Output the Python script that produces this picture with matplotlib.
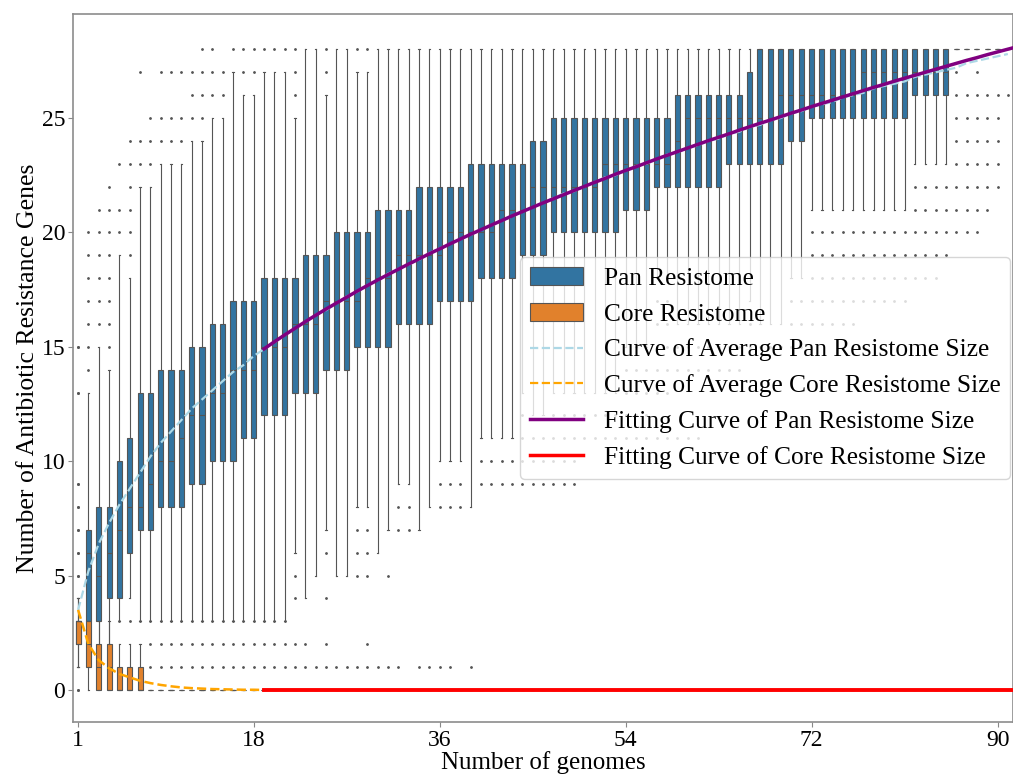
import matplotlib
matplotlib.use('Agg')
import matplotlib.pyplot as plt
from matplotlib.patches import Patch
from matplotlib.lines import Line2D
import numpy as np

# number of genomes sampled (one box per value)
genomes = np.arange(1, 92)

# pan resistome boxes
pan_q1 = [2, 3, 3, 4, 4, 6, 7, 7, 8, 8, 8, 9, 9, 10, 10, 10, 11, 11, 12, 12,
          12, 13, 13, 13, 14, 14, 14, 15, 15, 15, 15, 16, 16, 16, 16, 17, 17, 17, 17, 18,
          18, 18, 18, 19, 19, 19, 20, 20, 20, 20, 20, 20, 20, 21, 21, 21, 22, 22, 22, 22,
          22, 22, 22, 23, 23, 23, 23, 23, 23, 24, 24, 25, 25, 25, 25, 25, 25, 25, 25, 25,
          25, 26, 26, 26, 26, 28, 28, 28, 28, 28, 28]
pan_med = [3, 6, 5, 6, 7, 8, 8, 9, 10, 10, 11, 12, 12, 13, 13, 14, 14, 14, 15, 15,
           15, 16, 16, 16, 17, 17, 17, 17, 18, 18, 18, 19, 19, 19, 19, 19, 20, 20, 20, 20,
           20, 21, 21, 21, 22, 22, 22, 22, 22, 22, 22, 23, 23, 23, 23, 23, 23, 23, 24, 25,
           25, 25, 25, 25, 25, 25, 25, 25, 26, 26, 26, 26, 26, 26, 26, 26, 27, 27, 27, 27,
           27, 27, 27, 27, 27, 28, 28, 28, 28, 28, 28]
pan_q3 = [3, 7, 8, 8, 10, 11, 13, 13, 14, 14, 14, 15, 15, 16, 16, 17, 17, 17, 18, 18,
          18, 18, 19, 19, 19, 20, 20, 20, 20, 21, 21, 21, 21, 22, 22, 22, 22, 22, 23, 23,
          23, 23, 23, 23, 24, 24, 25, 25, 25, 25, 25, 25, 25, 25, 25, 25, 25, 25, 26, 26,
          26, 26, 26, 26, 26, 27, 28, 28, 28, 28, 28, 28, 28, 28, 28, 28, 28, 28, 28, 28,
          28, 28, 28, 28, 28, 28, 28, 28, 28, 28, 28]
pan_lo = [1, 1, 1, 2, 3, 4, 3, 3, 3, 3, 3, 3, 3, 3, 3, 3, 3, 3, 3, 3,
          3, 6, 4, 5, 7, 5, 5, 8, 8, 6, 7, 9, 9, 7, 8, 10, 10, 10, 8, 11,
          11, 11, 11, 13, 12, 12, 13, 13, 13, 13, 13, 13, 13, 15, 15, 15, 18, 18, 16, 16,
          16, 16, 16, 16, 16, 17, 16, 16, 16, 18, 18, 21, 21, 21, 21, 21, 21, 21, 21, 21,
          21, 23, 23, 23, 23, 28, 28, 28, 28, 28, 28]
pan_hi = [4, 13, 15, 14, 19, 18, 22, 22, 23, 23, 23, 24, 24, 25, 25, 27, 26, 26, 27, 27,
          27, 25, 28, 28, 26, 28, 28, 27, 27, 28, 28, 28, 28, 28, 28, 28, 28, 28, 28, 28,
          28, 28, 28, 28, 28, 28, 28, 28, 28, 28, 28, 28, 28, 28, 28, 28, 28, 28, 28, 28,
          28, 28, 28, 28, 28, 28, 28, 28, 28, 28, 28, 28, 28, 28, 28, 28, 28, 28, 28, 28,
          28, 28, 28, 28, 28, 28, 28, 28, 28, 28, 28]
pan_fliers = [
    [0, 5, 6, 7, 8, 9, 13, 15], [14, 15, 16, 17, 18, 19, 20], [16, 17, 18, 19, 20, 21],
    [15, 16, 17, 18, 19, 20, 21, 22], [20, 21, 23], [19, 20, 21, 22, 23, 24],
    [23, 24, 27], [23, 24, 25], [24, 25, 27], [24, 25, 27], [24, 25, 27],
    [25, 26, 27], [25, 26, 27, 28], [26, 27, 28], [26, 27], [28], [27, 28], [27, 28],
    [28], [28], [28], [4, 5, 26, 27, 28], [], [], [4, 6, 27, 28], [], [],
    [5, 6, 7, 28], [5, 6, 7, 28], [], [5], [7, 8], [7, 8], [], [],
    [8, 9], [8, 9], [8, 9], [], [9, 10], [9, 10], [9, 10], [9, 10],
    [9, 10, 11, 12], [9, 10, 11], [9, 10, 11], [9, 10, 11, 12], [9, 10, 11, 12],
    [9, 10, 11, 12], [11, 12], [11, 12], [11, 12], [11, 12],
    [11, 12, 13, 14], [11, 12, 13, 14], [11, 12, 13, 14],
    [11, 13, 14, 15, 16, 17], [11, 13, 14, 15, 16, 17],
    [11, 14, 15], [11, 14, 15], [11, 14, 15], [14, 15], [14, 15], [14, 15], [14, 15],
    [15, 16], [15], [15], [15], [15, 16, 17], [15, 16, 17],
    [16, 17, 18, 19, 20], [16, 17, 18, 19, 20], [16, 17, 18, 19, 20],
    [16, 17, 18, 19, 20], [16, 17, 18, 19, 20],
    [17, 18, 19, 20], [17, 18, 19, 20], [17, 18, 19, 20], [17, 18, 19, 20], [17, 18, 19, 20],
    [18, 19, 20, 21, 22], [18, 19, 20, 21, 22], [18, 19, 20, 21, 22], [19, 20, 21, 22],
    [20, 21, 22, 23, 24, 25, 26, 27], [20, 21, 22, 23, 24, 25, 26],
    [20, 21, 22, 23, 24, 25, 26, 27], [21, 22, 23, 24, 25, 26], [22, 23, 24, 25, 26], [26],
]

# core resistome boxes (all zero from 8 genomes on)
core_q1 = [2, 1, 0, 0, 0, 0, 0] + [0] * 84
core_med = [3, 2, 1, 1, 0, 0, 0] + [0] * 84
core_q3 = [3, 3, 2, 2, 1, 1, 1] + [0] * 84
core_lo = [1, 0, 0, 0, 0, 0, 0] + [0] * 84
core_hi = [4, 3, 3, 3, 2, 2, 2] + [0] * 84
core_fliers = [
    [0, 5, 6, 7, 8, 9, 13, 15], [], [], [], [3], [3], [3],
    [1, 2, 3], [1, 2, 3], [1, 2, 3], [1, 2, 3], [1, 2, 3], [1, 2, 3], [1, 2, 3],
    [1, 2, 3], [1, 2, 3], [1, 2, 3], [1, 2, 3], [1, 2, 3], [1, 2, 3], [1, 2, 3],
    [1, 2], [1, 2], [1], [1, 2], [1], [1], [1], [1, 2], [1], [1], [1], [], [1], [1],
    [1], [1], [], [1],
] + [[]] * 52

# average curves
pan_avg = [3.5, 5.2, 6.4, 7.3, 8.1, 8.8, 9.5, 10.2, 10.8, 11.3, 11.8, 12.3, 12.7, 13.1,
           13.5, 13.9, 14.2, 14.6, 14.9, 15.2, 15.5, 15.8, 16.1, 16.4, 16.6, 16.9, 17.2,
           17.4, 17.7, 17.9, 18.2, 18.4, 18.6, 18.8, 19.1, 19.3, 19.5, 19.7, 19.9, 20.1,
           20.3, 20.5, 20.7, 20.9, 21.1, 21.3, 21.5, 21.7, 21.8, 22.0, 22.2, 22.4, 22.5,
           22.7, 22.9, 23.0, 23.2, 23.4, 23.5, 23.7, 23.8, 24.0, 24.1, 24.3, 24.4, 24.6,
           24.7, 24.9, 25.0, 25.2, 25.3, 25.5, 25.6, 25.7, 25.9, 26.0, 26.1, 26.3, 26.4,
           26.5, 26.6, 26.8, 26.9, 27.0, 27.1, 27.2, 27.4, 27.5, 27.6, 27.7, 27.8]
core_avg_n = np.arange(1, 20)
core_avg = [3.5, 2.0, 1.3, 0.95, 0.7, 0.55, 0.4, 0.3, 0.22, 0.16, 0.11, 0.08, 0.06,
            0.04, 0.03, 0.02, 0.01, 0.01, 0.0]

# fitted curves
fit_n = np.arange(19, 93)
pan_fit = [14.91, 15.22, 15.52, 15.81, 16.10, 16.38, 16.65, 16.91, 17.17, 17.43, 17.68,
           17.92, 18.16, 18.39, 18.62, 18.84, 19.07, 19.28, 19.50, 19.71, 19.92, 20.12,
           20.32, 20.52, 20.72, 20.91, 21.10, 21.29, 21.47, 21.65, 21.83, 22.01, 22.19,
           22.36, 22.54, 22.71, 22.87, 23.04, 23.21, 23.37, 23.53, 23.69, 23.85, 24.01,
           24.16, 24.31, 24.47, 24.62, 24.77, 24.91, 25.06, 25.21, 25.35, 25.50, 25.64,
           25.78, 25.92, 26.06, 26.20, 26.34, 26.47, 26.61, 26.74, 26.87, 27.00, 27.13,
           27.26, 27.39, 27.52, 27.64, 27.77, 27.89, 28.01, 28.13]
core_fit_n = [19, 92]
core_fit = [0, 0]

xticks = [1, 18, 36, 54, 72, 90]
yticks = [0, 5, 10, 15, 20, 25]

pan_color = '#3274a1'
core_color = '#e1812c'
gray = '#555555'

plt.rcParams['font.family'] = ['Liberation Serif', 'DejaVu Serif']


def make_stats(q1, med, q3, lo, hi, fl):
    return [dict(q1=a, med=b, q3=c, whislo=d, whishi=e, fliers=f)
            for a, b, c, d, e, f in zip(q1, med, q3, lo, hi, fl)]


fig = plt.figure(figsize=(10.13, 7.76), dpi=100)
ax = fig.add_axes([0.072, 0.0696, 0.928, 0.9124])

props = dict(widths=0.5, patch_artist=True, capwidths=0.12, manage_ticks=False,
             whiskerprops=dict(color=gray, linewidth=0.8),
             capprops=dict(color=gray, linewidth=0.8),
             medianprops=dict(color=gray, linewidth=0.8),
             flierprops=dict(marker='o', markersize=1.0, markerfacecolor='#555555',
                             markeredgecolor='#555555', linestyle='none'))

ax.bxp(make_stats(pan_q1, pan_med, pan_q3, pan_lo, pan_hi, pan_fliers), positions=genomes,
       boxprops=dict(facecolor=pan_color, edgecolor=gray, linewidth=0.8), **props)
ax.bxp(make_stats(core_q1, core_med, core_q3, core_lo, core_hi, core_fliers), positions=genomes,
       boxprops=dict(facecolor=core_color, edgecolor=gray, linewidth=0.8), **props)

ax.plot(genomes, pan_avg, '--', color='lightblue', lw=1.6, zorder=4)
ax.plot(core_avg_n, core_avg, '--', color='orange', lw=1.8, zorder=4)
ax.plot(fit_n, pan_fit, color='purple', lw=2.5, zorder=5)
ax.plot(core_fit_n, core_fit, color='red', lw=2.8, zorder=5)

ax.set_xlim(0.5, 91.5)
ax.set_ylim(-1.4, 29.55)
ax.set_xticks(xticks)
ax.set_yticks(yticks)
ax.tick_params(labelsize=17, color='#888888', length=3.5, pad=2)
for s in ax.spines.values():
    s.set_color('#8c8c8c')
    s.set_linewidth(1.2)

ax.set_xlabel('Number of genomes', fontsize=18, labelpad=0)
ax.set_ylabel('Number of Antibiotic Resistance Genes', fontsize=18.5, labelpad=2)

handles = [
    Patch(facecolor=pan_color, edgecolor=gray, linewidth=0.8, label='Pan Resistome'),
    Patch(facecolor=core_color, edgecolor=gray, linewidth=0.8, label='Core Resistome'),
    Line2D([], [], color='lightblue', ls='--', lw=1.6, label='Curve of Average Pan Resistome Size'),
    Line2D([], [], color='orange', ls='--', lw=1.6, label='Curve of Average Core Resistome Size'),
    Line2D([], [], color='purple', lw=2.5, label='Fitting Curve of Pan Resistome Size'),
    Line2D([], [], color='red', lw=2.5, label='Fitting Curve of Core Resistome Size'),
]
ax.legend(handles=handles, loc='center right', fontsize=18.3, handlelength=2.1,
          labelspacing=0.5, borderaxespad=0.1, handletextpad=0.8)

fig.savefig('out.png', dpi=100)
